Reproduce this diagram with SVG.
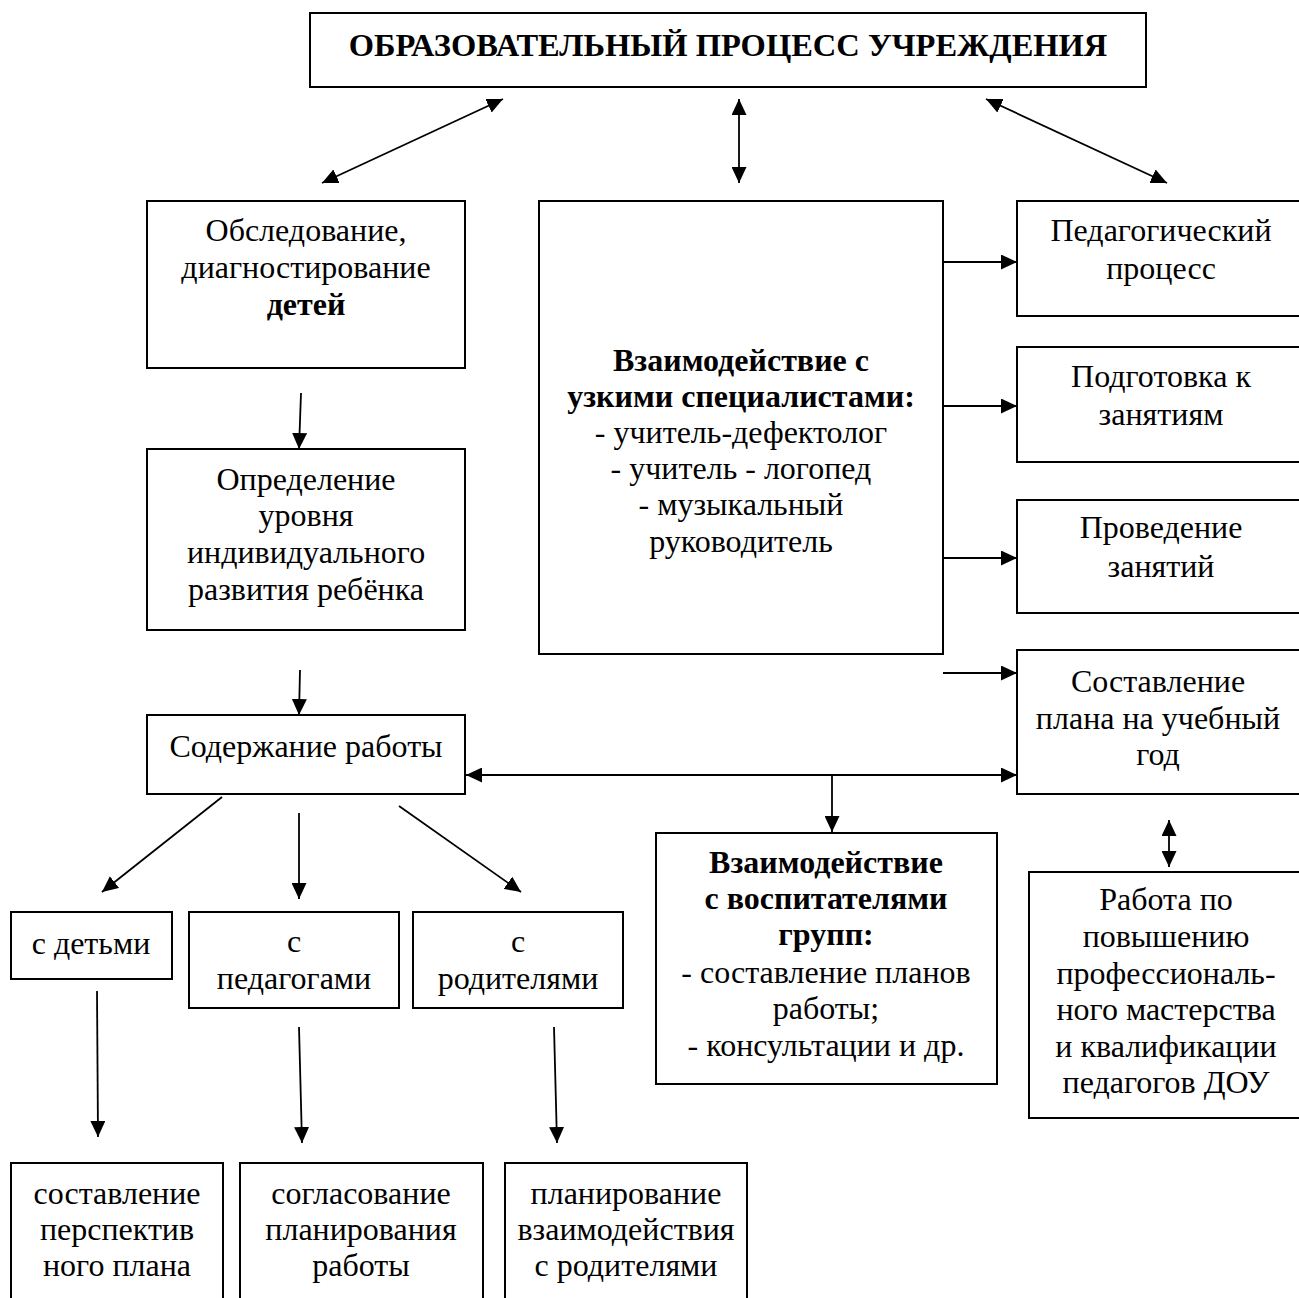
<svg xmlns="http://www.w3.org/2000/svg" width="1299" height="1298" viewBox="0 0 1299 1298">
<style>
.box{fill:#fff;stroke:#000;stroke-width:2}
.t{font-family:"Liberation Serif","Times New Roman",serif;font-size:32px;fill:#000;text-anchor:middle}
.b{font-weight:bold}
.ln{stroke:#000;stroke-width:1.8;fill:none}
</style>
<defs>
<marker id="ah" viewBox="0 0 16 15" refX="16" refY="7.5" markerWidth="16" markerHeight="15" markerUnits="userSpaceOnUse" orient="auto-start-reverse">
<path d="M0,0 L16,7.5 L0,15 z" fill="#000"/>
</marker>
</defs>
<rect width="1299" height="1298" fill="#fff"/>

<g id="title">
<rect class="box" x="310" y="13" width="836" height="74"/>
<text class="t b" x="728" y="56" style="font-size:32.5px">ОБРАЗОВАТЕЛЬНЫЙ ПРОЦЕСС УЧРЕЖДЕНИЯ</text>
</g>

<g id="obsledovanie">
<rect class="box" x="147" y="201" width="318" height="167"/>
<text class="t" x="306" y="241">Обследование,</text>
<text class="t" x="306" y="278">диагностирование</text>
<text class="t b" x="306" y="315">детей</text>
</g>

<g id="specialists">
<rect class="box" x="539" y="201" width="404" height="453"/>
<text class="t b" x="741" y="371">Взаимодействие с</text>
<text class="t b" x="741" y="407">узкими специалистами:</text>
<text class="t" x="741" y="443">- учитель-дефектолог</text>
<text class="t" x="741" y="479">- учитель - логопед</text>
<text class="t" x="741" y="515">- музыкальный</text>
<text class="t" x="741" y="552">руководитель</text>
</g>

<g id="pedprocess">
<rect class="box" x="1017" y="201" width="300" height="115"/>
<text class="t" x="1161" y="241">Педагогический</text>
<text class="t" x="1161" y="279">процесс</text>
</g>

<g id="podgotovka">
<rect class="box" x="1017" y="347" width="300" height="115"/>
<text class="t" x="1161" y="387">Подготовка к</text>
<text class="t" x="1161" y="425">занятиям</text>
</g>

<g id="provedenie">
<rect class="box" x="1017" y="500" width="300" height="113"/>
<text class="t" x="1161" y="538">Проведение</text>
<text class="t" x="1161" y="577">занятий</text>
</g>

<g id="plan">
<rect class="box" x="1017" y="650" width="300" height="144"/>
<text class="t" x="1158" y="692">Составление</text>
<text class="t" x="1158" y="729">плана на учебный</text>
<text class="t" x="1158" y="765">год</text>
</g>

<g id="opredelenie">
<rect class="box" x="147" y="449" width="318" height="181"/>
<text class="t" x="306" y="490">Определение</text>
<text class="t" x="306" y="526">уровня</text>
<text class="t" x="306" y="563">индивидуального</text>
<text class="t" x="306" y="600">развития ребёнка</text>
</g>

<g id="soderzhanie">
<rect class="box" x="147" y="715" width="318" height="79"/>
<text class="t" x="306" y="757">Содержание работы</text>
</g>

<g id="vospitateli">
<rect class="box" x="656" y="833" width="341" height="251"/>
<text class="t b" x="826" y="873">Взаимодействие</text>
<text class="t b" x="826" y="909">с воспитателями</text>
<text class="t b" x="826" y="945">групп:</text>
<text class="t" x="826" y="983">- составление планов</text>
<text class="t" x="826" y="1019">работы;</text>
<text class="t" x="826" y="1056">- консультации и др.</text>
</g>

<g id="rabota">
<rect class="box" x="1029" y="872" width="290" height="246"/>
<text class="t" x="1166" y="910">Работа по</text>
<text class="t" x="1166" y="947">повышению</text>
<text class="t" x="1166" y="984">профессиональ-</text>
<text class="t" x="1166" y="1020">ного мастерства</text>
<text class="t" x="1166" y="1057">и квалификации</text>
<text class="t" x="1166" y="1093">педагогов ДОУ</text>
</g>

<g id="deti">
<rect class="box" x="11" y="912" width="161" height="67"/>
<text class="t" x="91" y="954">с детьми</text>
</g>

<g id="pedagogi">
<rect class="box" x="189" y="912" width="210" height="96"/>
<text class="t" x="294" y="952">с</text>
<text class="t" x="294" y="989">педагогами</text>
</g>

<g id="roditeli">
<rect class="box" x="413" y="912" width="210" height="96"/>
<text class="t" x="518" y="952">с</text>
<text class="t" x="518" y="989">родителями</text>
</g>

<g id="perspektiv">
<rect class="box" x="11" y="1163" width="212" height="150"/>
<text class="t" x="117" y="1204">составление</text>
<text class="t" x="117" y="1240">перспектив</text>
<text class="t" x="117" y="1276">ного плана</text>
</g>

<g id="soglasovanie">
<rect class="box" x="240" y="1163" width="243" height="150"/>
<text class="t" x="361" y="1204">согласование</text>
<text class="t" x="361" y="1240">планирования</text>
<text class="t" x="361" y="1276">работы</text>
</g>

<g id="planirovanie">
<rect class="box" x="505" y="1163" width="242" height="150"/>
<text class="t" x="626" y="1204">планирование</text>
<text class="t" x="626" y="1240">взаимодействия</text>
<text class="t" x="626" y="1276">с родителями</text>
</g>

<g id="connectors">
<line class="ln" x1="322" y1="183" x2="503" y2="99" marker-start="url(#ah)" marker-end="url(#ah)"/>
<line class="ln" x1="739" y1="99" x2="739" y2="183" marker-start="url(#ah)" marker-end="url(#ah)"/>
<line class="ln" x1="986" y1="99" x2="1167" y2="183" marker-start="url(#ah)" marker-end="url(#ah)"/>
<line class="ln" x1="943" y1="262" x2="1017" y2="262" marker-end="url(#ah)"/>
<line class="ln" x1="943" y1="406" x2="1017" y2="406" marker-end="url(#ah)"/>
<line class="ln" x1="943" y1="558" x2="1017" y2="558" marker-end="url(#ah)"/>
<line class="ln" x1="943" y1="673" x2="1017" y2="673" marker-end="url(#ah)"/>
<line class="ln" x1="301" y1="393" x2="299" y2="449" marker-end="url(#ah)"/>
<line class="ln" x1="300" y1="670" x2="299" y2="715" marker-end="url(#ah)"/>
<line class="ln" x1="466" y1="775" x2="1017" y2="775" marker-start="url(#ah)" marker-end="url(#ah)"/>
<line class="ln" x1="832" y1="775" x2="832" y2="832" marker-end="url(#ah)"/>
<line class="ln" x1="1169" y1="820" x2="1169" y2="867" marker-start="url(#ah)" marker-end="url(#ah)"/>
<line class="ln" x1="222" y1="797" x2="102" y2="892" marker-end="url(#ah)"/>
<line class="ln" x1="299" y1="813" x2="299" y2="899" marker-end="url(#ah)"/>
<line class="ln" x1="399" y1="806" x2="521" y2="892" marker-end="url(#ah)"/>
<line class="ln" x1="97" y1="991" x2="98" y2="1137" marker-end="url(#ah)"/>
<line class="ln" x1="299" y1="1027" x2="302" y2="1143" marker-end="url(#ah)"/>
<line class="ln" x1="554" y1="1027" x2="557" y2="1143" marker-end="url(#ah)"/>
</g>
</svg>
